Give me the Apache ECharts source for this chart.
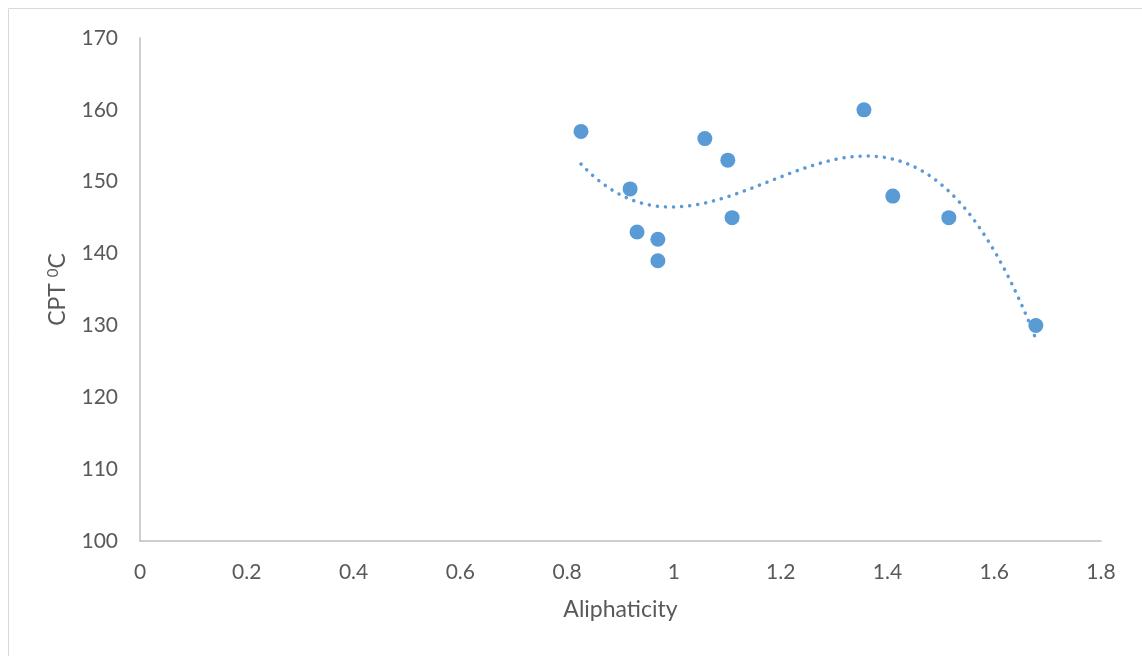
<!DOCTYPE html>
<html>
<head>
<meta charset="utf-8">
<title>CPT vs Aliphaticity</title>
<script src="https://cdn.jsdelivr.net/npm/echarts@6/dist/echarts.min.js"></script>
<style>
  html, body { margin: 0; padding: 0; background: #ffffff; }
  #chart { width: 1142px; height: 656px; }
</style>
</head>
<body>
<div id="chart"></div>
<script>
// Measured samples: aliphaticity and cloud point temperature (°C)
const aliphaticity = [0.826, 0.918, 0.931, 0.970, 0.970, 1.058, 1.101, 1.109, 1.356, 1.410, 1.515, 1.678];
const cpt          = [157,   149,   143,   142,   139,   156,   153,   145,   160,   148,   145,   130];

// Axis ticks
const xTicks = [0, 0.2, 0.4, 0.6, 0.8, 1, 1.2, 1.4, 1.6, 1.8];
const yTicks = [100, 110, 120, 130, 140, 150, 160, 170];

// Third-order polynomial trendline fitted by least squares
function polyFit(xs, ys, order) {
  const n = order + 1;
  const A = [];
  for (let i = 0; i < n; i++) {
    A.push(new Array(n + 1).fill(0));
  }
  for (let k = 0; k < xs.length; k++) {
    for (let i = 0; i < n; i++) {
      for (let j = 0; j < n; j++) A[i][j] += Math.pow(xs[k], i + j);
      A[i][n] += ys[k] * Math.pow(xs[k], i);
    }
  }
  for (let c = 0; c < n; c++) {
    let p = c;
    for (let r = c + 1; r < n; r++) if (Math.abs(A[r][c]) > Math.abs(A[p][c])) p = r;
    [A[c], A[p]] = [A[p], A[c]];
    for (let r = 0; r < n; r++) {
      if (r === c) continue;
      const f = A[r][c] / A[c][c];
      for (let j = c; j <= n; j++) A[r][j] -= f * A[c][j];
    }
  }
  return A.map((row, i) => row[n] / row[i]);
}
const coef = polyFit(aliphaticity, cpt, 3);
const xMin = Math.min(...aliphaticity), xMax = Math.max(...aliphaticity);
const trend = [];
for (let i = 0; i <= 120; i++) {
  const x = xMin + (xMax - xMin) * i / 120;
  let y = 0;
  for (let p = 0; p < coef.length; p++) y += coef[p] * Math.pow(x, p);
  trend.push([x, y]);
}

const font = 'Lato, "Open Sans", "Liberation Sans", sans-serif';
const chart = echarts.init(document.getElementById('chart'), null, { renderer: 'canvas' });
chart.setOption({
  backgroundColor: '#ffffff',
  animation: false,
  graphic: [{
    type: 'rect',
    shape: { x: 8.5, y: 8.5, width: 1200, height: 700 },
    style: { fill: 'none', stroke: '#d9d9d9', lineWidth: 1 },
    silent: true
  }],
  grid: { left: 140, right: 41, top: 38, bottom: 115, containLabel: false },
  xAxis: {
    type: 'value',
    min: xTicks[0], max: xTicks[xTicks.length - 1], interval: 0.2,
    name: 'Aliphaticity',
    nameLocation: 'middle',
    nameGap: 57,
    nameTextStyle: { color: '#595959', fontSize: 23, fontFamily: font },
    axisLine: { lineStyle: { color: '#bfbfbf', width: 1.5 } },
    axisTick: { show: false },
    splitLine: { show: false },
    axisLabel: { color: '#595959', fontSize: 21, fontFamily: font, margin: 21,
      formatter: v => String(Math.round(v * 10) / 10) }
  },
  yAxis: {
    type: 'value',
    min: yTicks[0], max: yTicks[yTicks.length - 1], interval: 10,
    name: '{m|CPT }{s|0}{m|C}',
    nameLocation: 'middle',
    nameGap: 70,
    nameRotate: 90,
    nameTextStyle: {
      color: '#595959', fontFamily: font,
      rich: {
        m: { fontSize: 23, color: '#595959', fontFamily: font },
        s: { fontSize: 15, color: '#595959', fontFamily: font, verticalAlign: 'top', padding: [0, 0, 9, 0] }
      }
    },
    axisLine: { show: true, lineStyle: { color: '#bfbfbf', width: 1.5 } },
    axisTick: { show: false },
    splitLine: { show: false },
    axisLabel: { color: '#595959', fontSize: 21, fontFamily: font, margin: 22 }
  },
  series: [
    {
      type: 'line',
      data: trend,
      showSymbol: false,
      smooth: false,
      lineStyle: { color: '#5b9bd5', width: 3.5, type: [0.1, 8], cap: 'round' },
      z: 2
    },
    {
      type: 'scatter',
      data: aliphaticity.map((x, i) => [x, cpt[i]]),
      symbol: 'circle',
      symbolSize: 15,
      itemStyle: { color: '#5b9bd5', opacity: 1 },
      z: 3
    }
  ]
});
</script>
</body>
</html>
